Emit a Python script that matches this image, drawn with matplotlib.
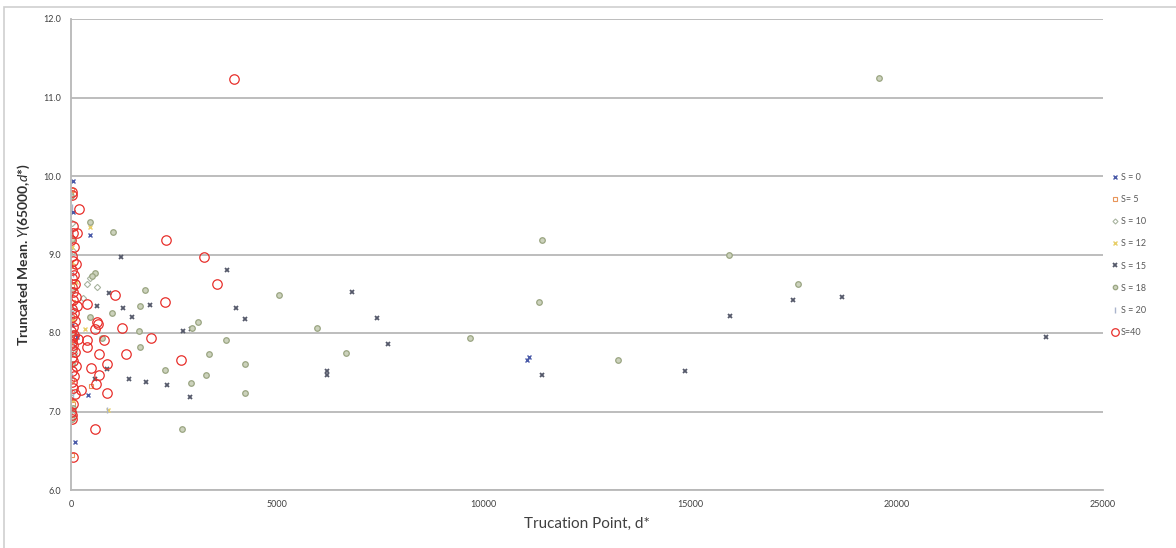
import matplotlib
matplotlib.use("Agg")
import matplotlib.pyplot as plt
from matplotlib.patches import Rectangle
from matplotlib.ticker import FormatStrFormatter, MultipleLocator

plt.rcParams['font.family'] = ['Lato', 'DejaVu Sans']
plt.rcParams['mathtext.fontset'] = 'custom'
plt.rcParams['mathtext.it'] = 'Lato:italic'
plt.rcParams['mathtext.rm'] = 'Lato'

# truncation point d* and truncated mean for each S
s0_x = [40, 40, 460, 97, 402, 11040, 11090, 20, 60, 150]
s0_y = [9.93, 9.54, 9.25, 6.61, 7.21, 7.66, 7.70, 8.10, 8.55, 7.95]

s5_x = [10, 20, 15, 40, 30, 60, 25, 50, 35, 480, 20, 45]
s5_y = [9.78, 9.82, 9.20, 8.85, 8.60, 8.40, 8.20, 7.90, 7.40, 7.33, 6.44, 7.10]

s10_x = [460, 620, 380, 25, 50, 15, 70, 30, 300, 40]
s10_y = [8.70, 8.58, 8.62, 9.40, 9.05, 8.30, 7.75, 7.25, 8.45, 6.95]

s12_x = [350, 460, 30, 60, 20, 900, 45, 120, 15]
s12_y = [8.05, 9.35, 8.90, 8.15, 7.60, 7.02, 7.15, 8.65, 9.10]

s15_x = [1200, 3780, 3990, 4220, 1920, 1260, 1470, 920, 620, 2720, 2900, 1400,
         1820, 2330, 2890, 880, 580, 6810, 7410, 7680, 6190, 6190, 11400, 14870,
         15970, 17490, 18680, 23630]
s15_y = [8.97, 8.80, 8.32, 8.18, 8.36, 8.32, 8.20, 8.51, 8.35, 8.02, 8.05, 7.42,
         7.37, 7.34, 7.18, 7.54, 7.42, 8.52, 8.19, 7.86, 7.51, 7.47, 7.46, 7.52,
         8.22, 8.42, 8.46, 7.95]

s18_x = [5050, 1800, 1680, 1000, 3080, 2930, 1640, 3750, 1680, 3350, 4220, 2280,
         3280, 2910, 4220, 2700, 460, 580, 500, 1020, 740, 460, 11410, 5970,
         11330, 9660, 6650, 13240, 15930, 17620, 19570, 10, 20, 30, 60, 15, 40, 25]
s18_y = [8.48, 8.55, 8.34, 8.26, 8.14, 8.07, 8.02, 7.91, 7.82, 7.73, 7.61, 7.53,
         7.47, 7.36, 7.24, 6.78, 9.42, 8.76, 8.72, 9.29, 7.94, 8.20, 9.19, 8.07,
         8.40, 7.94, 7.74, 7.66, 8.99, 8.62, 11.25, 9.75, 9.20, 8.55, 8.00, 7.60,
         7.05, 6.90]

s20_x = [880, 20, 50, 35, 80, 15, 60, 25]
s20_y = [7.02, 9.30, 8.75, 8.25, 7.85, 7.45, 7.20, 9.60]

s40_x = [3940, 2310, 3220, 3530, 2280, 1055, 1230, 640, 660, 1950, 790, 680,
         1340, 2670, 860, 480, 680, 600, 860, 240, 570, 380, 390, 380, 200, 140,
         60, 25, 580,
         20, 40, 60, 10, 80, 30, 50, 120, 15, 70, 35, 90, 25, 55, 110, 45, 140,
         20, 65, 30, 100, 40, 10, 75, 50, 160, 25, 60, 35, 85, 15, 45, 130, 20,
         70, 30, 55, 95, 40, 10, 15, 30]
s40_y = [11.24, 9.19, 8.97, 8.63, 8.40, 8.48, 8.07, 8.14, 8.12, 7.93, 7.91, 7.73,
         7.73, 7.65, 7.61, 7.55, 7.47, 7.35, 7.24, 7.27, 6.78, 7.91, 7.82, 8.37,
         9.58, 9.28, 6.42, 6.90, 8.05,
         9.80, 9.36, 9.27, 9.18, 9.10, 8.98, 8.92, 8.88, 8.80, 8.74, 8.70, 8.63,
         8.58, 8.52, 8.46, 8.42, 8.35, 8.30, 8.26, 8.21, 8.15, 8.08, 8.02, 7.98,
         7.95, 7.92, 7.88, 7.85, 7.80, 7.76, 7.70, 7.64, 7.58, 7.52, 7.45, 7.38,
         7.30, 7.22, 7.10, 7.00, 9.76, 6.95]

series = [
    (s0_x, s0_y, "S = 0", dict(marker='x', ms=3.2, mew=1.0, color='#4a5aa8')),
    (s5_x, s5_y, "S= 5", dict(marker='s', ms=3.2, mew=0.8, mfc='none', color='#e8955a')),
    (s10_x, s10_y, "S = 10", dict(marker='D', ms=3.2, mew=0.8, mfc='none', color='#a8b4a0')),
    (s12_x, s12_y, "S = 12", dict(marker='x', ms=3.2, mew=1.0, color='#e8cf6a')),
    (s15_x, s15_y, "S = 15", dict(marker='x', ms=3.3, mew=1.3, color='#55596a')),
    (s18_x, s18_y, "S = 18", dict(marker='o', ms=4.0, mew=0.9, mfc='#ccd2bc', mec='#9aa582')),
    (s20_x, s20_y, "S = 20", dict(marker='|', ms=5, mew=1.0, color='#aab4cc')),
    (s40_x, s40_y, "S=40", dict(marker='o', ms=6.8, mew=0.9, mfc='none', mec='#e8302c')),
]

fig = plt.figure(figsize=(11.76, 5.48), dpi=100)
ax = fig.add_axes([71 / 1176, 1 - 490 / 548, 1032 / 1176, 471 / 548])

for xs, ys, name, style in series:
    ax.plot(xs, ys, linestyle='none', label=name, **style)

ax.set_xlim(0, 25000)
ax.set_ylim(6.0, 12.0)
ax.xaxis.set_major_locator(MultipleLocator(5000))
ax.yaxis.set_major_locator(MultipleLocator(1.0))
ax.yaxis.set_major_formatter(FormatStrFormatter('%.1f'))
ax.tick_params(length=0, labelsize=6.5, labelcolor='#404040', pad=7)
ax.grid(axis='y', color='#b8b8b8', linewidth=1.3)
ax.set_axisbelow(True)
for side in ('top', 'right'):
    ax.spines[side].set_visible(False)
for side in ('left', 'bottom'):
    ax.spines[side].set_color('#b8b8b8')
    ax.spines[side].set_linewidth(1.3)

ax.set_xlabel("Trucation Point, d*", fontsize=11, color='#404040', labelpad=6)
ax.set_ylabel("Truncated Mean. $Y$(65000,$d$*)", fontsize=10, color='#303030',
              fontweight='bold', labelpad=8)

fig.legend(loc='center left', bbox_to_anchor=(1108 / 1176, 1 - 255 / 548),
           frameon=False, fontsize=6.5, labelcolor='#595959', handlelength=0.6,
           handletextpad=0.3, labelspacing=1.45, markerscale=0.8, borderpad=0)

# chart area border
fig.patches.append(Rectangle((4 / 1176, -0.05), 1.2, 1 - 7 / 548 + 0.05,
                             transform=fig.transFigure, fill=False,
                             edgecolor='#cfcfcf', linewidth=1.2))

fig.savefig("out.png", dpi=100)
